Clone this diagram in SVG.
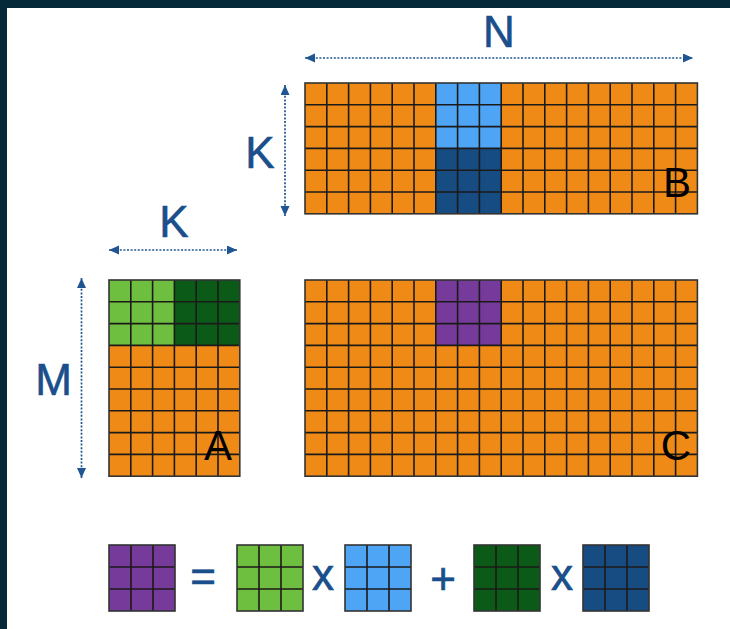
<svg xmlns="http://www.w3.org/2000/svg" width="730" height="629" viewBox="0 0 730 629">
  <style>
    .or { fill: #EF8A17; }
    .lb { fill: #4FA5F5; }
    .db { fill: #174C82; }
    .lg { fill: #6EBE3F; }
    .dg { fill: #0B5A17; }
    .pu { fill: #753A9A; }
    .grid { fill: none; stroke: #1c1a18; stroke-width: 1.6; }
    .frame { fill: none; stroke: #333; stroke-width: 1.6; }
    .lbl { font-family: "Liberation Sans", Arial, sans-serif; font-size: 44px; fill: #1A4F8B; stroke: #1A4F8B; stroke-width: 0.6; text-anchor: middle; }
    .op { stroke-width: 0.7; }
    .name { font-family: "Liberation Sans", Arial, sans-serif; font-size: 42px; fill: #000; text-anchor: middle; }
    .dim { fill: none; stroke: #1F5590; stroke-width: 1.7; stroke-dasharray: 2 1.6; marker-start: url(#ah); marker-end: url(#ah); }
  </style>
  <defs>
    <marker id="ah" markerUnits="userSpaceOnUse" markerWidth="12" markerHeight="10" refX="10" refY="4.5" orient="auto-start-reverse">
      <path d="M0,0 L10,4.5 L0,9 Z" fill="#1F5590"/>
    </marker>
    <path id="small" d="M22,0 V66 M44,0 V66 M0,22 H66 M0,44 H66"/>
  </defs>

  <rect x="0" y="0" width="730" height="629" fill="#fff"/>
  <rect x="0" y="0" width="730" height="8" fill="#06293A"/>
  <rect x="0" y="0" width="7" height="629" fill="#06293A"/>

  <g id="connectors">
    <path class="dim" d="M305,58 H693"/>
    <path class="dim" d="M285,85 V216"/>
    <path class="dim" d="M109,250 H237"/>
    <path class="dim" d="M81.5,278 V478"/>
  </g>

  <g id="labels">
    <text class="lbl" x="499" y="47">N</text>
    <text class="lbl" x="260" y="168">K</text>
    <text class="lbl" x="174" y="236.5">K</text>
    <text class="lbl" x="53.5" y="394.5">M</text>
  </g>

  <g id="matrixB">
    <rect class="or" x="305" y="83" width="392.4" height="130.8"/>
    <rect class="lb" x="435.8" y="83" width="65.4" height="65.4"/>
    <rect class="db" x="435.8" y="148.4" width="65.4" height="65.4"/>
    <path class="grid" d="M326.8,83V213.8 M348.6,83V213.8 M370.4,83V213.8 M392.2,83V213.8 M414,83V213.8 M435.8,83V213.8 M457.6,83V213.8 M479.4,83V213.8 M501.2,83V213.8 M523,83V213.8 M544.8,83V213.8 M566.6,83V213.8 M588.4,83V213.8 M610.2,83V213.8 M632,83V213.8 M653.8,83V213.8 M675.6,83V213.8 M305,104.8H697.4 M305,126.6H697.4 M305,148.4H697.4 M305,170.2H697.4 M305,192H697.4"/>
    <rect class="frame" x="305" y="83" width="392.4" height="130.8"/>
    <text class="name" x="677" y="197">B</text>
  </g>

  <g id="matrixA">
    <rect class="or" x="109" y="280" width="130.8" height="196.2"/>
    <rect class="lg" x="109" y="280" width="65.4" height="65.4"/>
    <rect class="dg" x="174.4" y="280" width="65.4" height="65.4"/>
    <path class="grid" d="M130.8,280V476.2 M152.6,280V476.2 M174.4,280V476.2 M196.2,280V476.2 M218,280V476.2 M109,301.8H239.8 M109,323.6H239.8 M109,345.4H239.8 M109,367.2H239.8 M109,389H239.8 M109,410.8H239.8 M109,432.6H239.8 M109,454.4H239.8"/>
    <rect class="frame" x="109" y="280" width="130.8" height="196.2"/>
    <text class="name" x="218" y="460">A</text>
  </g>

  <g id="matrixC">
    <rect class="or" x="305" y="280" width="392.4" height="196.2"/>
    <rect class="pu" x="435.8" y="280" width="65.4" height="65.4"/>
    <path class="grid" d="M326.8,280V476.2 M348.6,280V476.2 M370.4,280V476.2 M392.2,280V476.2 M414,280V476.2 M435.8,280V476.2 M457.6,280V476.2 M479.4,280V476.2 M501.2,280V476.2 M523,280V476.2 M544.8,280V476.2 M566.6,280V476.2 M588.4,280V476.2 M610.2,280V476.2 M632,280V476.2 M653.8,280V476.2 M675.6,280V476.2 M305,301.8H697.4 M305,323.6H697.4 M305,345.4H697.4 M305,367.2H697.4 M305,389H697.4 M305,410.8H697.4 M305,432.6H697.4 M305,454.4H697.4"/>
    <rect class="frame" x="305" y="280" width="392.4" height="196.2"/>
    <text class="name" x="676" y="460">C</text>
  </g>

  <g id="equation">
    <g id="tileC" transform="translate(109,545)">
      <rect class="pu" width="66" height="66"/>
      <use href="#small" class="grid"/>
      <rect class="frame" width="66" height="66"/>
    </g>
    <text class="lbl op" x="203" y="592">=</text>
    <g id="tileA1" transform="translate(237,545)">
      <rect class="lg" width="66" height="66"/>
      <use href="#small" class="grid"/>
      <rect class="frame" width="66" height="66"/>
    </g>
    <text class="lbl op" x="323" y="590">x</text>
    <g id="tileB1" transform="translate(345,545)">
      <rect class="lb" width="66" height="66"/>
      <use href="#small" class="grid"/>
      <rect class="frame" width="66" height="66"/>
    </g>
    <text class="lbl op" x="443" y="594">+</text>
    <g id="tileA2" transform="translate(474,545)">
      <rect class="dg" width="66" height="66"/>
      <use href="#small" class="grid"/>
      <rect class="frame" width="66" height="66"/>
    </g>
    <text class="lbl op" x="562" y="590">x</text>
    <g id="tileB2" transform="translate(583,545)">
      <rect class="db" width="66" height="66"/>
      <use href="#small" class="grid"/>
      <rect class="frame" width="66" height="66"/>
    </g>
  </g>
</svg>
